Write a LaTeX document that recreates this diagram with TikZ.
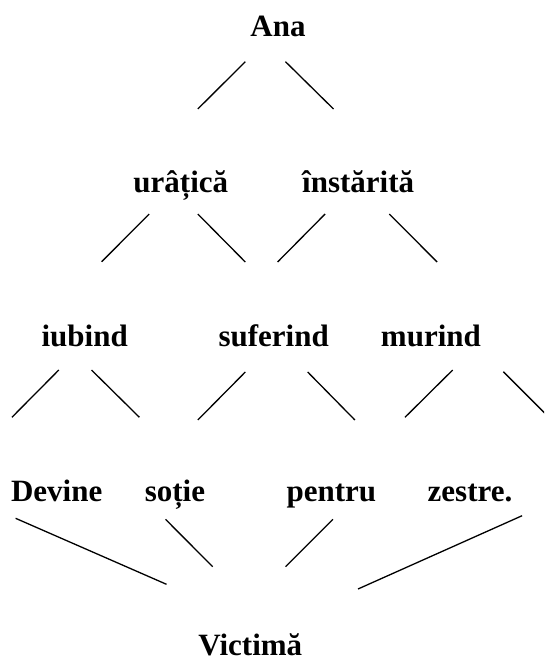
\documentclass[tikz,border=0pt]{standalone}
\usepackage{fontspec}
\setmainfont{Liberation Serif}
\tikzset{
  word/.style={font=\bfseries\fontsize{31}{31}\selectfont, inner sep=0pt, anchor=base},
  link/.style={line width=1.3pt}
}
\begin{document}
\begin{tikzpicture}[x=1pt, y=-1pt]
        \clip (0,0) rectangle (544,659);
        \node[word] (ana)  at (278,36.7)    {Ana};
        \node[word] (urat) at (180.8,192.5) {urâțică};
        \node[word] (inst) at (358.2,192.5) {înstărită};
        \node[word] (iub)  at (84.7,346.7)  {iubind};
        \node[word] (suf)  at (273.7,346.7) {suferind};
        \node[word] (mur)  at (430.9,346.7) {murind};
        \node[word] (dev)  at (56.7,501.7)  {Devine};
        \node[word] (sot)  at (174.9,501.7) {soție};
        \node[word] (pen)  at (331.3,501.7) {pentru};
        \node[word] (zes)  at (470,501.7)   {zestre.};
        \node[word] (vic)  at (250.3,655)   {Victimă};
        \draw[link] ([shift={(-32.7,25)}]ana.base) -- ([shift={(17,-83.5)}]urat.base);
        \draw[link] ([shift={(7.5,25)}]ana.base) -- ([shift={(-24.7,-83.5)}]inst.base);
        \draw[link] ([shift={(-31.6,21.5)}]urat.base) -- ([shift={(17,-85)}]iub.base);
        \draw[link] ([shift={(17,21.5)}]urat.base) -- ([shift={(-28.4,-84.7)}]suf.base);
        \draw[link] ([shift={(-33.1,21.5)}]inst.base) -- ([shift={(3.9,-84.7)}]suf.base);
        \draw[link] ([shift={(31.1,21.5)}]inst.base) -- ([shift={(6.2,-84.7)}]mur.base);
        \draw[link] ([shift={(-25.9,23.3)}]iub.base) -- ([shift={(-44.8,-84.4)}]dev.base);
        \draw[link] ([shift={(6.8,23.3)}]iub.base) -- ([shift={(-35.5,-84.4)}]sot.base);
        \draw[link] ([shift={(-28.4,25.3)}]suf.base) -- ([shift={(22.9,-81.7)}]sot.base);
        \draw[link] ([shift={(34,25.3)}]suf.base) -- ([shift={(23.6,-81.7)}]pen.base);
        \draw[link] ([shift={(21.8,23.3)}]mur.base) -- ([shift={(73.7,-84.4)}]pen.base);
        \draw[link] ([shift={(72.4,25)}]mur.base) -- ([shift={(80,-83.3)}]zes.base);
        \draw[link] ([shift={(-41.1,16.6)}]dev.base) -- ([shift={(-83.8,-70.7)}]vic.base);
        \draw[link] ([shift={(-9.4,17.6)}]sot.base) -- ([shift={(-37.6,-88.3)}]vic.base);
        \draw[link] ([shift={(1.7,17.6)}]pen.base) -- ([shift={(35.2,-88.3)}]vic.base);
        \draw[link] ([shift={(52.1,14)}]zes.base) -- ([shift={(107.7,-66)}]vic.base);
\end{tikzpicture}
\end{document}
